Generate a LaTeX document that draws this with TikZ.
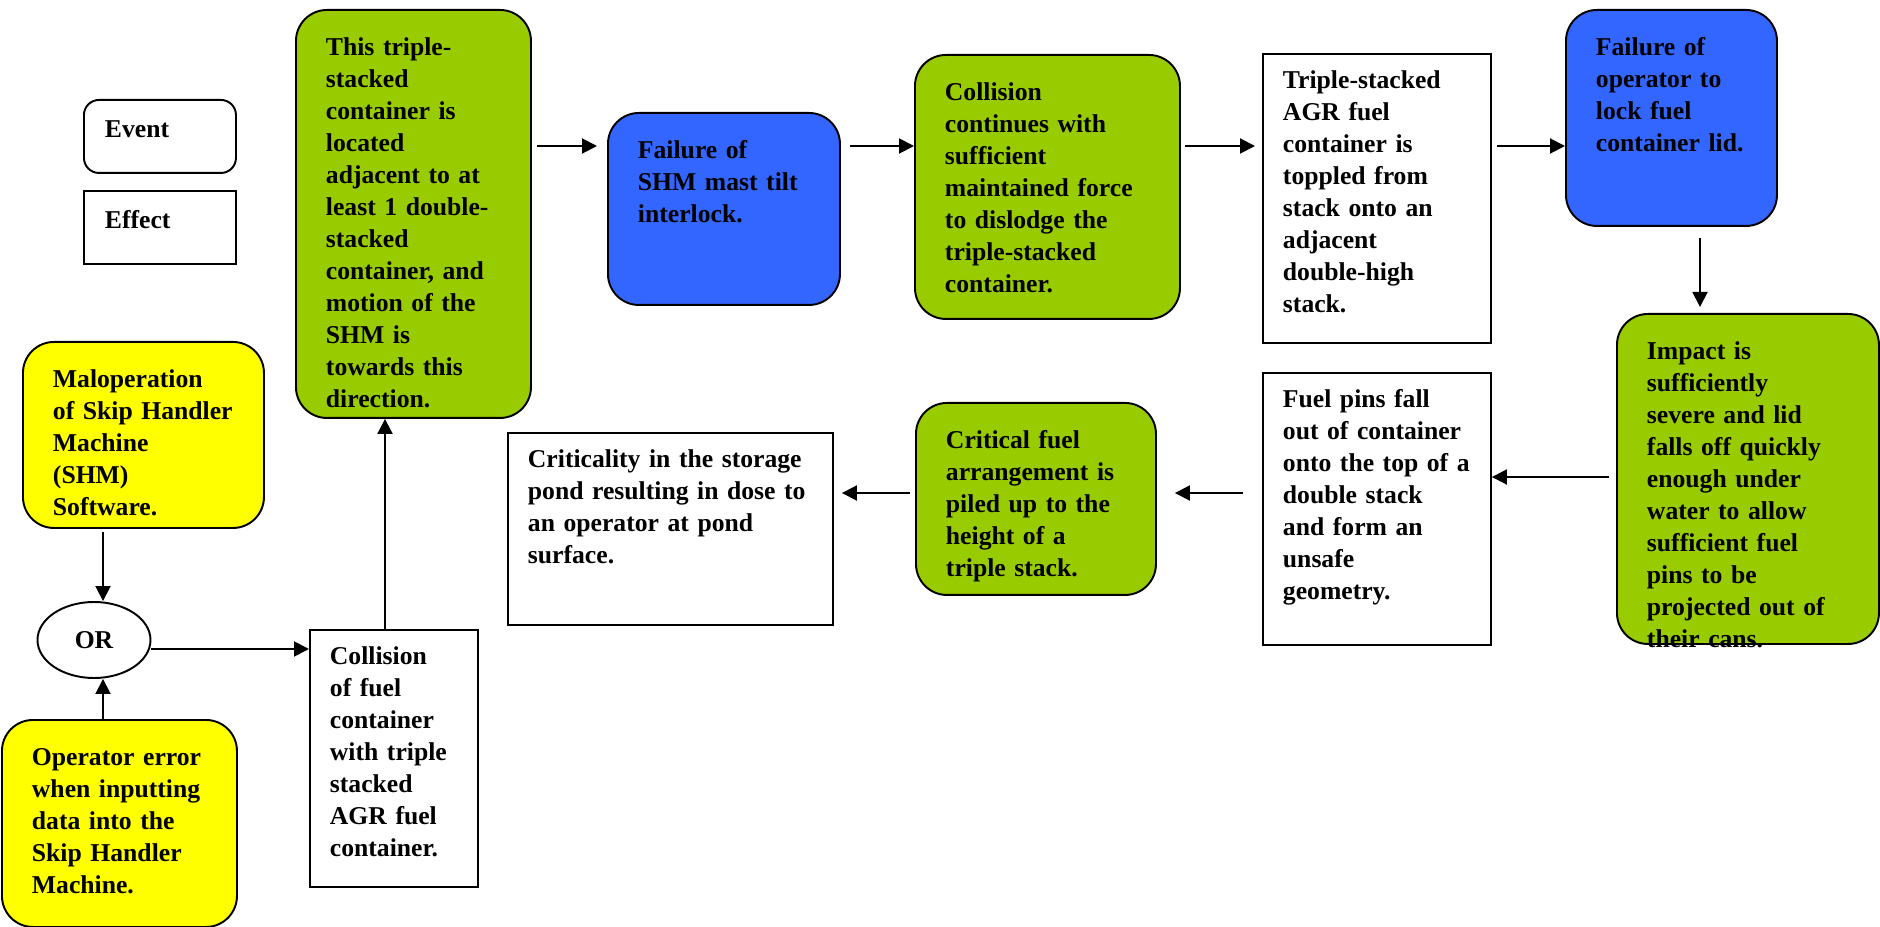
\documentclass[tikz,border=0pt]{standalone}
\usepackage{fontspec}
\setmainfont{Liberation Serif}
\usetikzlibrary{arrows.meta,shapes.geometric}

\definecolor{evtgreen}{HTML}{99CC00}
\definecolor{evtblue}{HTML}{3366FF}
\definecolor{evtyellow}{HTML}{FFFF00}

\begin{document}
\begin{tikzpicture}[
    >={Triangle[length=0.3cm,width=0.3cm]},
    font=\fontsize{14.6}{18.2}\selectfont\bfseries,
    line width=1.1pt,
    % Styles
    eventbox/.style={
        rectangle, rounded corners=0.62cm, draw=black,
        anchor=north west, align=left,
        inner xsep=0.3cm, inner ysep=0.55cm, text height=0.37cm,
        execute at begin node={\leftskip=0.3cm\hyphenpenalty=10000}
    },
    greenevt/.style={eventbox, fill=evtgreen},
    blueevt/.style={eventbox, fill=evtblue},
    yellowevt/.style={eventbox, fill=evtyellow},
    effectbox/.style={
        rectangle, draw=black, fill=white,
        anchor=north west, align=left,
        inner xsep=0.2cm, inner ysep=0.33cm, text height=0.37cm,
        execute at begin node={\leftskip=0.2cm\hyphenpenalty=10000}
    },
    legendbox/.style={
        rectangle, draw=black,
        anchor=north west, align=left,
        inner xsep=0.42cm, inner ysep=0.38cm, text height=0.37cm,
        text width=2.2cm, text depth=0.33cm
    },
    orgate/.style={ellipse, draw=black, minimum width=2.26cm, minimum height=1.52cm, inner sep=0pt},
    link/.style={->, line width=1.1pt},
]

\useasboundingbox (0,0) rectangle (37.6,-18.54);

%--- Legend ---
\node[legendbox, rounded corners=0.3cm] (legevent) at (1.66,-1.98) {Event};
\node[legendbox] (legeffect) at (1.66,-3.80) {Effect};

%--- Initiating events + OR gate ---
% box sizes: text width = w - 0.6, text depth = h - 1.47 (rounded)
%            text width = w - 0.4, text depth = h - 1.03 (plain)
\node[yellowevt, text width=4.22cm, text depth=2.25cm] (malop) at (0.44,-6.82)
    {Maloperation\\of Skip Handler\\Machine\\(SHM)\\Software.};
\node[orgate] (gate) at (1.88,-12.80) {OR};
\node[yellowevt, text width=4.10cm, text depth=2.67cm] (operr) at (0.02,-14.38)
    {Operator error\\when inputting\\data into the\\Skip Handler\\Machine.};
\node[effectbox, text width=2.96cm, text depth=4.11cm] (coll) at (6.18,-12.58)
    {Collision\\of fuel\\container\\with triple\\stacked\\AGR fuel\\container.};

%--- Top row ---
\node[greenevt, text width=4.10cm, text depth=6.69cm] (cont) at (5.90,-0.18)
    {This triple-\\stacked\\container is\\located\\adjacent to at\\least 1 double-\\stacked\\container, and\\motion of the\\SHM is\\towards this\\direction.};
\node[blueevt, text width=4.04cm, text depth=2.37cm] (mast) at (12.14,-2.24)
    {Failure of\\SHM mast tilt\\interlock.};
\node[greenevt, text width=4.70cm, text depth=3.81cm] (force) at (18.28,-1.08)
    {Collision\\continues with\\sufficient\\maintained force\\to dislodge the\\triple-stacked\\container.};
\node[effectbox, text width=4.16cm, text depth=4.75cm] (topple) at (25.24,-1.06)
    {Triple-stacked\\AGR fuel\\container is\\toppled from\\stack onto an\\adjacent\\double-high\\stack.};
\node[blueevt, text width=3.62cm, text depth=2.85cm] (lid) at (31.30,-0.18)
    {Failure of\\operator to\\lock fuel\\container lid.};

%--- Bottom row ---
\node[greenevt, text width=4.64cm, text depth=5.13cm] (impact) at (32.32,-6.26)
    {Impact is\\sufficiently\\severe and lid\\falls off quickly\\enough under\\water to allow\\sufficient fuel\\pins to be\\projected out of\\their cans.};
\node[effectbox, text width=4.16cm, text depth=4.41cm] (pins) at (25.24,-7.44)
    {Fuel pins fall\\out of container\\onto the top of a\\double stack\\and form an\\unsafe\\geometry.};
\node[greenevt, text width=4.20cm, text depth=2.37cm] (pile) at (18.30,-8.04)
    {Critical fuel\\arrangement is\\piled up to the\\height of a\\triple stack.};
\node[effectbox, text width=6.10cm, text depth=2.81cm] (dose) at (10.14,-8.64)
    {Criticality in the storage\\pond resulting in dose to\\an operator at pond\\surface.};

%--- Links ---
% rows and columns the links run along
\coordinate (row1) at (0,-2.92);
\coordinate (row2) at (0,-9.54);
\coordinate (row3) at (0,-9.86);
\coordinate (row4) at (0,-12.98);
\coordinate (col1) at (2.06,0);
\coordinate (col2) at (7.70,0);
\coordinate (col3) at (34.00,0);

% top row, left to right
\draw[link, shorten <=0.1cm, shorten >=0.2cm] (cont.east |- row1) -- (mast.west |- row1);
\draw[link, shorten <=0.18cm] (mast.east |- row1) -- (force.west |- row1);
\draw[link, shorten <=0.08cm, shorten >=0.14cm] (force.east |- row1) -- (topple.west |- row1);
\draw[link, shorten <=0.1cm] (topple.east |- row1) -- (lid.west |- row1);
% down to the impact box
\draw[link, shorten <=0.22cm, shorten >=0.12cm] (lid.south -| col3) -- (impact.north -| col3);
% bottom row, right to left
\draw[link, shorten <=0.14cm] (impact.west |- row2) -- (pins.east |- row2);
\draw[link, shorten <=0.38cm, shorten >=0.36cm] (pins.west |- row3) -- (pile.east |- row3);
\draw[link, shorten <=0.1cm, shorten >=0.16cm] (pile.west |- row3) -- (dose.east |- row3);
% OR gate
\draw[link, shorten <=0.06cm] (malop.south -| col1) -- (gate.north -| col1);
\draw[link] (operr.north -| col1) -- (gate.south -| col1);
\draw[link] (gate.east |- row4) -- (coll.west |- row4);
\draw[link] (coll.north -| col2) -- (cont.south -| col2);

\end{tikzpicture}
\end{document}
